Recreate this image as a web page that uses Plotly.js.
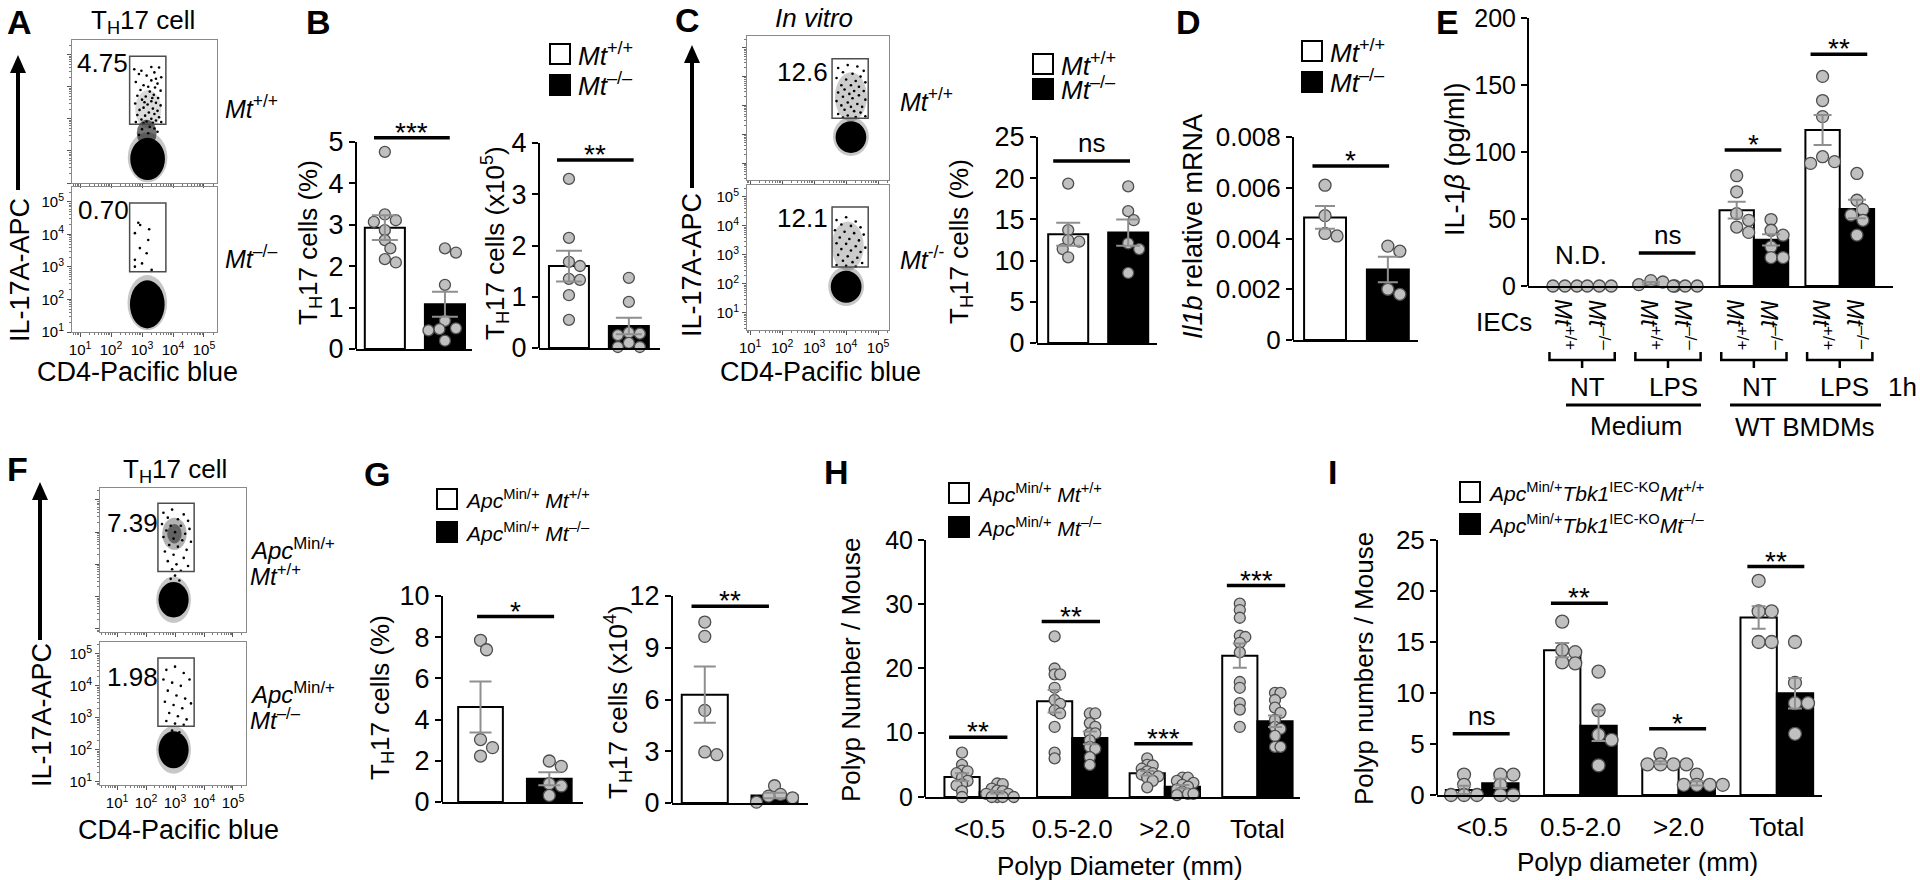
<!DOCTYPE html>
<html><head><meta charset="utf-8">
<script src="https://cdn.plot.ly/plotly-3.0.1.min.js"></script>
<style>html,body{margin:0;padding:0;background:#fff;}#chart{width:1920px;height:880px;}</style>
</head><body><div id="chart"></div>
<script>
// ================= DATA =================
// Flow cytometry (log10 CD4-Pacific blue, log10 IL-17A-APC)
const DECADES = [1, 2, 3, 4, 5];
const DECADE_TEXT = ['10<sup>1</sup>', '10<sup>2</sup>', '10<sup>3</sup>', '10<sup>4</sup>', '10<sup>5</sup>'];
// gates [xmin, xmax, ymin, ymax]
const A_gates = [[2.6, 3.77, 2.83, 4.95], [2.6, 3.77, 2.85, 4.97]];
const A_pct = ['4.75', '0.70'];
const C_gates = [[3.56, 4.69, 2.55, 4.62], [3.56, 4.69, 2.58, 4.65]];
const C_pct = ['12.6', '12.1'];
const F_gates = [[2.41, 3.66, 2.78, 4.9], [2.41, 3.66, 2.74, 4.87]];
const F_pct = ['7.39', '1.98'];
// dense populations [cx, cy, rx, ry, density]
const A_top_pop = [[3.18, 1.8, 0.64, 0.78, 0.22], [3.18, 1.75, 0.56, 0.66, 1], [3.15, 2.55, 0.32, 0.42, 0.55], [3.2, 3.3, 0.42, 0.6, 0.14]];
const A_bot_pop = [[3.17, 1.9, 0.64, 0.85, 0.22], [3.17, 1.85, 0.56, 0.74, 1]];
const C_top_pop = [[4.15, 3.3, 0.5, 0.85, 0.2], [4.15, 1.92, 0.56, 0.68, 0.22], [4.15, 1.9, 0.48, 0.55, 1]];
const C_bot_pop = [[4.05, 3.3, 0.5, 0.85, 0.2], [4.0, 1.92, 0.56, 0.68, 0.22], [4.0, 1.9, 0.48, 0.55, 1]];
const F_top_pop = [[2.98, 3.95, 0.42, 0.5, 0.3], [2.98, 3.95, 0.25, 0.3, 0.45], [2.95, 1.9, 0.6, 0.72, 0.22], [2.95, 1.9, 0.52, 0.55, 1]];
const F_bot_pop = [[2.95, 2.0, 0.6, 0.75, 0.22], [2.95, 2.0, 0.52, 0.58, 1]];
// gated events
const A_top_events = [[2.75,4.55],[3.55,4.6],[3.4,4.45],[2.9,4.4],[3.62,4.3],[3.15,4.35],[3.3,4.2],[2.8,4.15],[3.5,4.1],[3.05,4.05],[3.42,3.98],[2.95,3.9],[3.6,3.88],[3.25,3.85],[3.38,3.75],[2.85,3.72],[3.12,3.7],[3.52,3.65],[3.0,3.6],[3.3,3.55],[3.45,3.5],[2.78,3.48],[3.18,3.45],[3.6,3.42],[3.05,3.35],[3.35,3.32],[2.92,3.28],[3.5,3.25],[3.22,3.2],[3.4,3.15],[2.85,3.12],[3.1,3.1],[3.55,3.05],[3.3,3.0],[2.98,2.98],[3.45,2.95],[3.15,2.92],[2.8,2.9],[3.62,2.9],[3.35,2.88],[3.05,2.86],[3.25,2.75],[3.4,2.7],[3.0,2.68],[3.5,2.6],[3.2,2.55],[2.9,2.5],[3.3,4.62],[2.98,4.5],[3.45,4.25],[3.2,4.0],[3.33,3.65],[3.08,3.52]];
const A_bot_events = [[2.88,4.36],[2.94,4.29],[3.23,4.16],[2.77,4.04],[3.2,3.83],[2.93,3.58],[3.15,3.42],[2.77,3.22],[3.0,3.11],[2.77,3.01],[3.31,2.91]];
const C_top_events = [[3.75,4.3],[4.05,4.4],[4.35,4.35],[4.55,4.2],[3.9,4.15],[4.2,4.1],[4.45,4.0],[3.7,3.95],[4.0,3.9],[4.3,3.85],[4.6,3.8],[3.85,3.7],[4.15,3.7],[4.4,3.65],[3.95,3.55],[4.25,3.5],[4.55,3.5],[3.75,3.45],[4.1,3.4],[4.4,3.35],[3.9,3.3],[4.2,3.25],[4.6,3.2],[3.7,3.15],[4.05,3.1],[4.35,3.05],[3.85,3.0],[4.15,2.95],[4.5,2.95],[3.95,2.85],[4.25,2.8],[4.45,2.75],[3.75,2.7],[4.05,2.65],[4.3,2.6],[4.6,2.62],[3.9,2.58]];
const C_bot_events = [[3.7,4.2],[4.0,4.3],[4.3,4.15],[3.85,4.05],[4.15,4.0],[4.45,3.95],[3.65,3.85],[3.95,3.8],[4.25,3.75],[4.55,3.7],[3.8,3.6],[4.1,3.55],[4.4,3.5],[3.7,3.4],[4.0,3.38],[4.3,3.3],[4.6,3.25],[3.85,3.2],[4.15,3.15],[4.45,3.1],[3.75,3.0],[4.05,2.95],[4.35,2.9],[3.9,2.8],[4.2,2.75],[4.5,2.72],[3.7,2.65],[4.0,2.62],[4.3,2.6]];
const F_top_events = [[2.6,4.6],[2.9,4.7],[3.3,4.55],[2.75,4.45],[3.1,4.4],[3.45,4.35],[2.55,4.25],[2.85,4.2],[3.2,4.2],[3.5,4.1],[2.7,4.05],[3.0,4.0],[3.35,3.95],[2.6,3.85],[2.95,3.8],[3.25,3.75],[3.55,3.7],[2.8,3.6],[3.1,3.55],[3.4,3.45],[2.65,3.4],[2.95,3.3],[3.3,3.2],[2.75,3.1],[3.05,3.0],[3.45,2.95],[2.9,2.85],[3.2,2.8],[3.0,2.65],[2.85,2.55],[3.15,2.5]];
const F_bot_events = [[2.7,4.5],[3.0,4.6],[3.3,4.4],[2.6,4.2],[2.9,4.1],[3.2,4.0],[3.5,4.2],[2.75,3.85],[3.05,3.7],[3.35,3.6],[2.65,3.5],[2.95,3.4],[3.25,3.3],[3.55,3.45],[2.8,3.15],[3.1,3.05],[3.4,2.95],[2.7,2.9],[3.0,2.82],[3.3,2.78],[2.9,2.6],[3.15,2.55]];

// B
const B1_mean = [2.93, 1.08], B1_sem = [0.30, 0.30];
const B1_wt = [4.76, 3.25, 3.11, 3.07, 2.87, 2.63, 2.43, 2.17, 2.09];
const B1_ko = [2.43, 2.33, 1.55, 0.68, 0.50, 0.48, 0.45, 0.20];
const B1_ticks = [0, 1, 2, 3, 4, 5];
const B2_mean = [1.60, 0.43], B2_sem = [0.30, 0.16];
const B2_wt = [3.30, 2.15, 1.68, 1.60, 1.35, 1.33, 1.03, 0.55];
const B2_ko = [1.37, 0.90, 0.30, 0.28, 0.25, 0.10, 0.02, 0.02];
const B2_ticks = [0, 1, 2, 3, 4];
// C
const C_mean = [13.2, 13.4], C_sem = [1.4, 1.6];
const C_wt = [19.35, 13.7, 12.5, 12.3, 11.4, 10.4];
const C_ko = [19.0, 16.0, 14.9, 12.1, 11.4, 8.5];
const C_ticks = [0, 5, 10, 15, 20, 25];
// D
const D_mean = [0.00483, 0.00278], D_sem = [0.00045, 0.0005];
const D_wt = [0.0061, 0.0049, 0.0042, 0.0041];
const D_ko = [0.0037, 0.0035, 0.0020, 0.0018];
const D_ticks = [0, 0.002, 0.004, 0.006, 0.008];
const D_ticktext = ['0', '0.002', '0.004', '0.006', '0.008'];
// E
const E_stim = ['NT', 'LPS', 'NT', 'LPS'];
const E_cond = ['Medium', 'WT BMDMs'];
const E_wt_mean = [0, 2.0, 56.6, 116.5], E_wt_sem = [0, 0.9, 6.2, 11.2];
const E_ko_mean = [0, 0, 34.5, 57.4], E_ko_sem = [0, 0, 4.2, 6.9];
const E_wt_pts = [[0, 0, 0], [0, 3, 4, 1], [82.3, 70.3, 54, 49, 44, 40], [156.4, 138.4, 126.4, 96.5, 92.8, 91.5]];
const E_ko_pts = [[0, 0, 0], [0, 0, 0], [49.6, 41.6, 37.9, 29.2, 21.2, 21.2], [84, 64, 57, 53, 49, 38]];
const E_ticks = [0, 50, 100, 150, 200];
const E_sig = ['N.D.', 'ns', '*', '**'], E_sigY = [10, 24.6, 101.5, 173];
// G
const G1_mean = [4.61, 1.13], G1_sem = [1.24, 0.32];
const G1_wt = [7.85, 7.39, 3.03, 2.64, 2.23], G1_ko = [1.99, 1.73, 0.89, 0.78, 0.32];
const G1_ticks = [0, 2, 4, 6, 8, 10];
const G2_mean = [6.28, 0.44], G2_sem = [1.63, 0.16];
const G2_wt = [10.49, 9.66, 5.37, 2.96, 2.80], G2_ko = [1.00, 0.50, 0.40, 0.30, 0.05];
const G2_ticks = [0, 3, 6, 9, 12];
// H
const H_cats = ['&lt;0.5', '0.5-2.0', '&gt;2.0', 'Total'];
const H_wt_mean = [3.1, 14.9, 3.7, 22.0], H_wt_sem = [0.6, 1.75, 0.35, 1.9];
const H_ko_mean = [0.75, 9.2, 1.6, 11.8], H_ko_sem = [0.2, 1.0, 0.28, 0.9];
const H_wt_pts = [[6.9, 5.0, 4.1, 4.0, 3.7, 3.0, 2.5, 2.0, 1.8, 0.9, 0],
  [25.0, 20.0, 19.1, 19.1, 17.0, 15.1, 14.5, 13.5, 13.0, 10.9, 6.9, 6.0],
  [6.0, 5.0, 4.9, 4.4, 4.0, 3.7, 3.5, 3.2, 3.0, 2.5, 1.5],
  [30.1, 29.1, 27.9, 25.1, 24.9, 24.0, 22.5, 17.9, 17.0, 14.6, 13.6, 10.9]];
const H_ko_pts = [[2.1, 2.0, 1.3, 1.0, 0.9, 0.5, 0.5, 0, 0, 0, 0],
  [13.0, 13.0, 11.5, 10.9, 9.9, 9.9, 8.8, 7.8, 7.5, 6.2, 5.0],
  [3.0, 3.0, 2.5, 2.2, 1.9, 1.6, 1.2, 0.8, 0.5, 0.5, 0.3],
  [16.2, 16.2, 15.1, 13.9, 13.1, 12.0, 10.9, 10.6, 9.5, 7.8, 7.8]];
const H_ticks = [0, 10, 20, 30, 40];
const H_sig = ['**', '**', '***', '***'], H_sigY = [9.3, 27.3, 8.3, 32.9];
// I
const I_cats = ['&lt;0.5', '0.5-2.0', '&gt;2.0', 'Total'];
const I_wt_mean = [0.5, 14.2, 3.17, 17.4], I_wt_sem = [0.4, 0.7, 0.15, 1.1];
const I_ko_mean = [1.14, 6.8, 1.14, 9.97], I_ko_sem = [0.45, 1.5, 0.2, 1.5];
const I_wt_pts = [[2.0, 1.0, 0, 0, 0], [17.0, 14.2, 14.0, 13.0, 12.9], [4.0, 3.0, 3.0, 3.0, 3.0], [21.0, 18.0, 18.0, 15.0, 15.0]];
const I_ko_pts = [[2.0, 2.0, 1.0, 0, 0], [12.1, 8.3, 5.9, 5.4, 2.9], [2.0, 1.0, 1.0, 1.0, 1.0], [15.0, 11.0, 9.0, 9.0, 6.0]];
const I_ticks = [0, 5, 10, 15, 20, 25];
const I_sig = ['ns', '**', '*', '**'], I_sigY = [6.0, 18.8, 6.5, 22.4];

// ================= DRAWING =================
const FONT = 'Liberation Sans, Arial, Helvetica, sans-serif';
const W = 1920, H = 880;
const px = x => x / W, py = y => 1 - y / H;
const traces = [], shapes = [], annotations = [];
const layout = {width: W, height: H, margin: {l: 0, r: 0, t: 0, b: 0}, paper_bgcolor: '#fff', plot_bgcolor: 'rgba(0,0,0,0)',
  showlegend: false, barmode: 'overlay', font: {family: FONT, color: '#000'}, shapes, annotations, hovermode: false};

const MT_WT = '<i>Mt</i><sup>+/+</sup>', MT_KO = '<i>Mt</i><sup>\u2013/\u2013</sup>';
const APC = '<i>Apc</i><sup>Min/+</sup>', TBK = '<i>Tbk1</i><sup>IEC-KO</sup>';

function T(text, x, y, size, o = {}) {
  annotations.push(Object.assign({text, x: px(x), y: py(y), xref: 'paper', yref: 'paper', showarrow: false,
    xanchor: 'center', yanchor: 'middle', font: {family: FONT, size, color: '#000'}}, o));
}
function ids(n) { const s = n === 1 ? '' : String(n); return {s, xid: 'x' + s, yid: 'y' + s}; }

// ---- flow panels ----
const MINOR = [];
for (let d = 0; d <= 5; d++) for (let k = 2; k <= 9; k++) MINOR.push(d + Math.log10(k));
function flowPanel(n, box, xr, yr, labels) {
  const {s, xid, yid} = ids(n);
  const common = {showline: true, mirror: true, linecolor: '#8a8a8a', linewidth: 1, showgrid: false, zeroline: false,
    ticks: 'outside', ticklen: 4, tickwidth: 1, tickcolor: '#555', fixedrange: true, tickmode: 'array',
    tickvals: DECADES, ticktext: DECADE_TEXT, tickfont: {size: 15, family: FONT, color: '#000'},
    minor: {tickmode: 'array', tickvals: MINOR, ticks: 'outside', ticklen: 2, tickwidth: 1, tickcolor: '#777', showgrid: false}};
  layout['xaxis' + s] = Object.assign({}, common, {domain: [px(box[0]), px(box[1])], range: xr, anchor: yid, showticklabels: labels});
  layout['yaxis' + s] = Object.assign({}, common, {domain: [py(box[3]), py(box[2])], range: yr, anchor: xid, showticklabels: labels});
  return {xid, yid};
}
function flowPop(ax, pops) {
  pops.slice().sort((a, b) => a[4] - b[4]).forEach(p => shapes.push({type: 'circle', xref: ax.xid, yref: ax.yid,
    x0: p[0] - p[2], x1: p[0] + p[2], y0: p[1] - p[3], y1: p[1] + p[3], fillcolor: `rgba(0,0,0,${p[4]})`, line: {width: 0}, layer: 'below'}));
}
function flowDots(ax, pts) {
  traces.push({type: 'scatter', mode: 'markers', x: pts.map(p => p[0]), y: pts.map(p => p[1]), xaxis: ax.xid, yaxis: ax.yid,
    hoverinfo: 'skip', marker: {size: 2.6, color: '#000'}});
}
function flowGate(ax, g) {
  shapes.push({type: 'rect', xref: ax.xid, yref: ax.yid, x0: g[0], x1: g[1], y0: g[2], y1: g[3], line: {color: '#4d4d4d', width: 1.5}, fillcolor: 'rgba(0,0,0,0)'});
}
function arrowUp(x, yTop, yBot) {
  shapes.push({type: 'line', xref: 'paper', yref: 'paper', x0: px(x), x1: px(x), y0: py(yBot), y1: py(yTop + 14), line: {color: '#000', width: 4}});
  shapes.push({type: 'path', xref: 'paper', yref: 'paper', path: `M ${px(x)},${py(yTop)} L ${px(x - 8)},${py(yTop + 18)} L ${px(x + 8)},${py(yTop + 18)} Z`, fillcolor: '#000', line: {width: 0}});
}

// ---- bar panels ----
function barPanel(n, o) {
  const {s, xid, yid} = ids(n);
  const ppy = (o.zero - o.tickPx) / o.topTick;
  const topPx = o.zero - ppy * o.ymax;
  const ppx = (o.xpx[1] - o.xpx[0]) / (o.xr[1] - o.xr[0]);
  layout['xaxis' + s] = {domain: [px(o.xpx[0]), px(o.xpx[1])], range: o.xr, anchor: yid, showline: true, linecolor: '#000', linewidth: 2,
    showgrid: false, zeroline: false, fixedrange: true, ticks: o.cats ? 'outside' : '', ticklen: 8, tickcolor: 'rgba(0,0,0,0)',
    showticklabels: !!o.cats, tickmode: 'array', tickvals: o.cats ? o.cats.map((_, i) => i) : [], ticktext: o.cats || [],
    tickfont: {family: FONT, size: 26, color: '#000'}};
  layout['yaxis' + s] = {domain: [py(o.zero), py(topPx)], range: [0, o.ymax], anchor: xid, showline: false, showgrid: false, zeroline: false,
    fixedrange: true, ticks: 'outside', ticklen: 6, tickwidth: 2, tickcolor: '#000', tickmode: 'array', tickvals: o.ticks,
    ticktext: o.ticktext || o.ticks.map(String), tickfont: {family: FONT, size: o.tickSize || 27, color: '#000'}};
  shapes.push({type: 'line', xref: xid + ' domain', yref: yid, x0: 0, x1: 0, y0: 0, y1: o.topTick, line: {color: '#000', width: 2}});
  return {xid, yid, ppx, ppy, sep: o.sep || 0.9};
}
function swarm(vals, cx, ppx, ppy, d, sep) {
  const idx = vals.map((v, i) => i).sort((a, b) => vals[b] - vals[a]);
  const placed = [], xs = new Array(vals.length);
  for (const i of idx) {
    const yy = vals[i] * ppy;
    let off = 0;
    for (let k = 0; k < 60; k++) {
      const o = k === 0 ? 0 : (k % 2 ? 1 : -1) * Math.ceil(k / 2) * d * 0.5;
      if (placed.every(p => Math.hypot(p.x - o, p.y - yy) >= d * sep)) { off = o; break; }
    }
    placed.push({x: off, y: yy});
    xs[i] = cx + off / ppx;
  }
  return xs;
}
function points(ax, vals, cx, d) {
  traces.push({type: 'scatter', mode: 'markers', x: swarm(vals, cx, ax.ppx, ax.ppy, d, ax.sep), y: vals, xaxis: ax.xid, yaxis: ax.yid,
    cliponaxis: false, hoverinfo: 'skip', marker: {size: d, color: '#c0c0c0', line: {color: '#4d4d4d', width: 1.3}}});
}
function errs(ax, xs, means, sems, cap) {
  const k = sems.map((v, i) => i).filter(i => sems[i] > 0);
  traces.push({type: 'scatter', mode: 'markers', x: k.map(i => xs[i]), y: k.map(i => means[i]), xaxis: ax.xid, yaxis: ax.yid,
    marker: {size: 1, opacity: 0}, hoverinfo: 'skip', cliponaxis: false,
    error_y: {type: 'data', array: k.map(i => sems[i]), visible: true, color: '#8f8f8f', thickness: 2, width: cap}});
}
function twoBars(ax, means, sems, wt, ko, w, d, cap) {
  traces.push({type: 'bar', x: [0, 1], y: means, width: w, marker: {color: ['#ffffff', '#000000'], line: {color: '#000', width: 2}},
    xaxis: ax.xid, yaxis: ax.yid, hoverinfo: 'skip'});
  points(ax, wt, 0, d); points(ax, ko, 1, d);
  errs(ax, [0, 1], means, sems, cap);
}
function groupBars(ax, wtM, wtS, koM, koS, wtP, koP, w, d, cap) {
  const cats = wtM.map((_, i) => i);
  traces.push({type: 'bar', x: cats, y: wtM, width: w, offset: -w, marker: {color: '#fff', line: {color: '#000', width: 2}}, xaxis: ax.xid, yaxis: ax.yid, hoverinfo: 'skip'});
  traces.push({type: 'bar', x: cats, y: koM, width: w, offset: 0, marker: {color: '#000', line: {color: '#000', width: 2}}, xaxis: ax.xid, yaxis: ax.yid, hoverinfo: 'skip'});
  cats.forEach(i => { points(ax, wtP[i], i - w / 2, d); points(ax, koP[i], i + w / 2, d); });
  errs(ax, cats.map(i => i - w / 2), wtM, wtS, cap);
  errs(ax, cats.map(i => i + w / 2), koM, koS, cap);
}
function sig(ax, x0, x1, y, text) {
  if (text !== 'N.D.') shapes.push({type: 'line', xref: ax.xid, yref: ax.yid, x0, x1, y0: y, y1: y, line: {color: '#000', width: 3.5}});
  const star = text.indexOf('*') >= 0;
  annotations.push({text, xref: ax.xid, yref: ax.yid, x: (x0 + x1) / 2, y, xanchor: 'center', yanchor: 'bottom', showarrow: false,
    yshift: star ? -12 : 1, font: {family: FONT, size: star ? 28 : 26, color: '#000'}});
}
function legend(x, y1, y2, t1, t2, size) {
  [[y1, '#fff', t1], [y2, '#000', t2]].forEach(([y, c, t]) => {
    shapes.push({type: 'rect', xref: 'paper', yref: 'paper', x0: px(x), x1: px(x + 20), y0: py(y + 10), y1: py(y - 10), fillcolor: c, line: {color: '#000', width: 2}});
    T(t, x + 26, y, size, {xanchor: 'left'});
  });
}

// ===== Panel A =====
const aTop = flowPanel(1, [72, 217, 40, 183], [0.74, 5.42], [1, 5.46], false);
const aBot = flowPanel(2, [72, 217, 187, 332], [0.74, 5.42], [1, 5.46], true);
flowPop(aTop, A_top_pop); flowPop(aBot, A_bot_pop);
flowDots(aTop, A_top_events); flowDots(aBot, A_bot_events);
flowGate(aTop, A_gates[0]); flowGate(aBot, A_gates[1]);
T('<b>A</b>', 19, 22, 34);
T('T<sub>H</sub>17 cell', 143, 21, 26);
T(A_pct[0], 75, 63, 26, {xanchor: 'left'}); T(A_pct[1], 76, 210, 26, {xanchor: 'left'});
T(MT_WT, 223, 107, 25, {xanchor: 'left'}); T(MT_KO, 223, 257, 25, {xanchor: 'left'});
T('IL-17A-APC', 20, 270, 27, {textangle: -90});
arrowUp(18, 55, 190);
T('CD4-Pacific blue', 137, 372, 27);

// ===== Panel B =====
const b1 = barPanel(3, {xpx: [356, 472], xr: [-0.48, 1.45], zero: 349, tickPx: 142, topTick: 5, ymax: 5.8, ticks: B1_ticks, sep: 0.85});
twoBars(b1, B1_mean, B1_sem, B1_wt, B1_ko, 0.667, 11, 13);
sig(b1, -0.18, 1.08, 5.1, '***');
const b2 = barPanel(4, {xpx: [539, 660], xr: [-0.5, 1.52], zero: 348, tickPx: 143, topTick: 4, ymax: 4.5, ticks: B2_ticks, sep: 0.85});
twoBars(b2, B2_mean, B2_sem, B2_wt, B2_ko, 0.667, 11, 13);
sig(b2, -0.2, 1.08, 3.67, '**');
T('<b>B</b>', 318, 22, 34);
legend(550, 54, 85, MT_WT, MT_KO, 26);
T('T<sub>H</sub>17 cells (%)', 309, 243, 26, {textangle: -90});
T('T<sub>H</sub>17 cells (x10<sup>5</sup>)', 495, 243, 26, {textangle: -90});

// ===== Panel C =====
const cTop = flowPanel(5, [747, 889, 36, 180], [0.9, 5.34], [0.41, 5.41], false);
const cBot = flowPanel(6, [747, 889, 185, 330], [0.9, 5.34], [0.41, 5.41], true);
flowPop(cTop, C_top_pop); flowPop(cBot, C_bot_pop);
flowDots(cTop, C_top_events); flowDots(cBot, C_bot_events);
flowGate(cTop, C_gates[0]); flowGate(cBot, C_gates[1]);
T('<b>C</b>', 687, 20, 34);
T('<i>In vitro</i>', 814, 18, 26);
T(C_pct[0], 775, 72, 26, {xanchor: 'left'}); T(C_pct[1], 775, 218, 26, {xanchor: 'left'});
T(MT_WT, 898, 100, 25, {xanchor: 'left'}); T('<i>Mt</i><sup>-/-</sup>', 898, 258, 25, {xanchor: 'left'});
T('IL-17A-APC', 692, 265, 27, {textangle: -90});
arrowUp(692, 45, 188);
T('CD4-Pacific blue', 820, 372, 27);
const cb = barPanel(7, {xpx: [1037, 1157], xr: [-0.52, 1.48], zero: 343, tickPx: 137, topTick: 25, ymax: 28, ticks: C_ticks, sep: 0.85});
twoBars(cb, C_mean, C_sem, C_wt, C_ko, 0.667, 11, 12);
sig(cb, -0.25, 1.03, 22.1, 'ns');
legend(1033, 64, 89, MT_WT, MT_KO, 26);
T('T<sub>H</sub>17 cells (%)', 960, 242, 26, {textangle: -90});

// ===== Panel D =====
const dd = barPanel(8, {xpx: [1293, 1418], xr: [-0.51, 1.48], zero: 340, tickPx: 137, topTick: 0.008, ymax: 0.0088, ticks: D_ticks, ticktext: D_ticktext, tickSize: 26});
twoBars(dd, D_mean, D_sem, D_wt, D_ko, 0.667, 12, 10);
sig(dd, -0.2, 1.02, 0.00686, '*');
T('<b>D</b>', 1188, 22, 34);
legend(1302, 51, 82, MT_WT, MT_KO, 26);
T('<i>Il1b</i> relative mRNA', 1193, 227, 27, {textangle: -90});

// ===== Panel E =====
const ee = barPanel(9, {xpx: [1528, 1893], xr: [-0.63, 3.62], zero: 286, tickPx: 18, topTick: 200, ymax: 206, ticks: E_ticks, tickSize: 25, sep: 0.85});
groupBars(ee, E_wt_mean, E_wt_sem, E_ko_mean, E_ko_sem, E_wt_pts, E_ko_pts, 0.4, 12, 9);
E_sig.forEach((t, i) => sig(ee, i - 0.34, i + 0.32, E_sigY[i], t));
T('<b>E</b>', 1447, 22, 34);
T('IL-1<i>\u03b2</i> (pg/ml)', 1455, 160, 27, {textangle: -90});
T('IECs', 1504, 322, 26);
E_stim.forEach((t, i) => {
  [[i - 0.2, MT_WT], [i + 0.2, MT_KO]].forEach(([x, lab]) => annotations.push({text: lab, xref: ee.xid, yref: 'paper', x, y: py(325),
    textangle: 90, showarrow: false, xanchor: 'center', yanchor: 'middle', font: {family: FONT, size: 24, color: '#000'}}));
  shapes.push({type: 'path', xref: ee.xid, yref: 'paper', line: {color: '#000', width: 2.5},
    path: `M ${i - 0.38},${py(352)} L ${i - 0.38},${py(360)} L ${i + 0.38},${py(360)} L ${i + 0.38},${py(352)} M ${i},${py(360)} L ${i},${py(368)}`});
  annotations.push({text: t, xref: ee.xid, yref: 'paper', x: i + 0.06, y: py(387), showarrow: false, xanchor: 'center', yanchor: 'middle',
    font: {family: FONT, size: 26, color: '#000'}});
});
T('1h', 1902, 387, 26);
shapes.push({type: 'line', xref: 'paper', yref: 'paper', x0: px(1566), x1: px(1701), y0: py(405), y1: py(405), line: {color: '#000', width: 3}});
shapes.push({type: 'line', xref: 'paper', yref: 'paper', x0: px(1730), x1: px(1881), y0: py(405), y1: py(405), line: {color: '#000', width: 3}});
T(E_cond[0], 1636, 426, 26); T(E_cond[1], 1805, 427, 26);

// ===== Panel F =====
const fTop = flowPanel(10, [100, 246, 488, 632], [0.41, 5.45], [0.9, 5.37], false);
const fBot = flowPanel(11, [100, 246, 642, 785], [0.41, 5.45], [0.9, 5.37], true);
flowPop(fTop, F_top_pop); flowPop(fBot, F_bot_pop);
flowDots(fTop, F_top_events); flowDots(fBot, F_bot_events);
flowGate(fTop, F_gates[0]); flowGate(fBot, F_gates[1]);
T('<b>F</b>', 17, 469, 34);
T('T<sub>H</sub>17 cell', 175, 470, 26);
T(F_pct[0], 105, 523, 26, {xanchor: 'left'}); T(F_pct[1], 105, 677, 26, {xanchor: 'left'});
T(APC, 248, 549, 24, {xanchor: 'left'}); T(MT_WT, 248, 575, 24, {xanchor: 'left'});
T(APC, 248, 693, 24, {xanchor: 'left'}); T(MT_KO, 248, 719, 24, {xanchor: 'left'});
T('IL-17A-APC', 42, 715, 27, {textangle: -90});
arrowUp(40, 482, 640);
T('CD4-Pacific blue', 178, 830, 27);

// ===== Panel G =====
const g1 = barPanel(12, {xpx: [442, 583], xr: [-0.56, 1.49], zero: 802, tickPx: 596, topTick: 10, ymax: 10.6, ticks: G1_ticks, sep: 0.85});
twoBars(g1, G1_mean, G1_sem, G1_wt, G1_ko, 0.65, 12, 11);
sig(g1, -0.05, 1.07, 9.0, '*');
const g2 = barPanel(13, {xpx: [672, 808], xr: [-0.47, 1.48], zero: 803, tickPx: 596, topTick: 12, ymax: 12.7, ticks: G2_ticks, sep: 0.85});
twoBars(g2, G2_mean, G2_sem, G2_wt, G2_ko, 0.66, 12, 11);
sig(g2, -0.19, 0.92, 11.4, '**');
T('<b>G</b>', 377, 474, 34);
legend(437, 499, 532, APC + ' ' + MT_WT, APC + ' ' + MT_KO, 21);
T('T<sub>H</sub>17 cells (%)', 381, 698, 26, {textangle: -90});
T('T<sub>H</sub>17 cells (x10<sup>4</sup>)', 618, 702, 26, {textangle: -90});

// ===== Panel H =====
const hh = barPanel(14, {xpx: [925, 1300], xr: [-0.59, 3.46], zero: 797, tickPx: 540, topTick: 40, ymax: 41, ticks: H_ticks, cats: H_cats, tickSize: 25, sep: 0.5});
groupBars(hh, H_wt_mean, H_wt_sem, H_ko_mean, H_ko_sem, H_wt_pts, H_ko_pts, 0.38, 11, 7);
H_sig.forEach((t, i) => sig(hh, i - 0.33, i + 0.3, H_sigY[i], t));
T('<b>H</b>', 836, 472, 34);
legend(949, 493, 527, APC + ' ' + MT_WT, APC + ' ' + MT_KO, 21);
T('Polyp Number / Mouse', 851, 670, 26, {textangle: -90});
T('Polyp Diameter (mm)', 1120, 866, 26);

// ===== Panel I =====
const ii = barPanel(15, {xpx: [1437, 1822], xr: [-0.46, 3.46], zero: 795, tickPx: 540, topTick: 25, ymax: 25.6, ticks: I_ticks, cats: I_cats, tickSize: 26, sep: 0.75});
groupBars(ii, I_wt_mean, I_wt_sem, I_ko_mean, I_ko_sem, I_wt_pts, I_ko_pts, 0.37, 13, 7);
I_sig.forEach((t, i) => sig(ii, i - 0.3, i + 0.28, I_sigY[i], t));
T('<b>I</b>', 1332, 472, 34);
legend(1460, 492, 524, APC + TBK + MT_WT, APC + TBK + MT_KO, 21);
T('Polyp numbers / Mouse', 1364, 669, 26, {textangle: -90});
T('Polyp diameter (mm)', 1637, 862, 26);

Plotly.newPlot('chart', traces, layout, {staticPlot: true, displayModeBar: false});
</script></body></html>
